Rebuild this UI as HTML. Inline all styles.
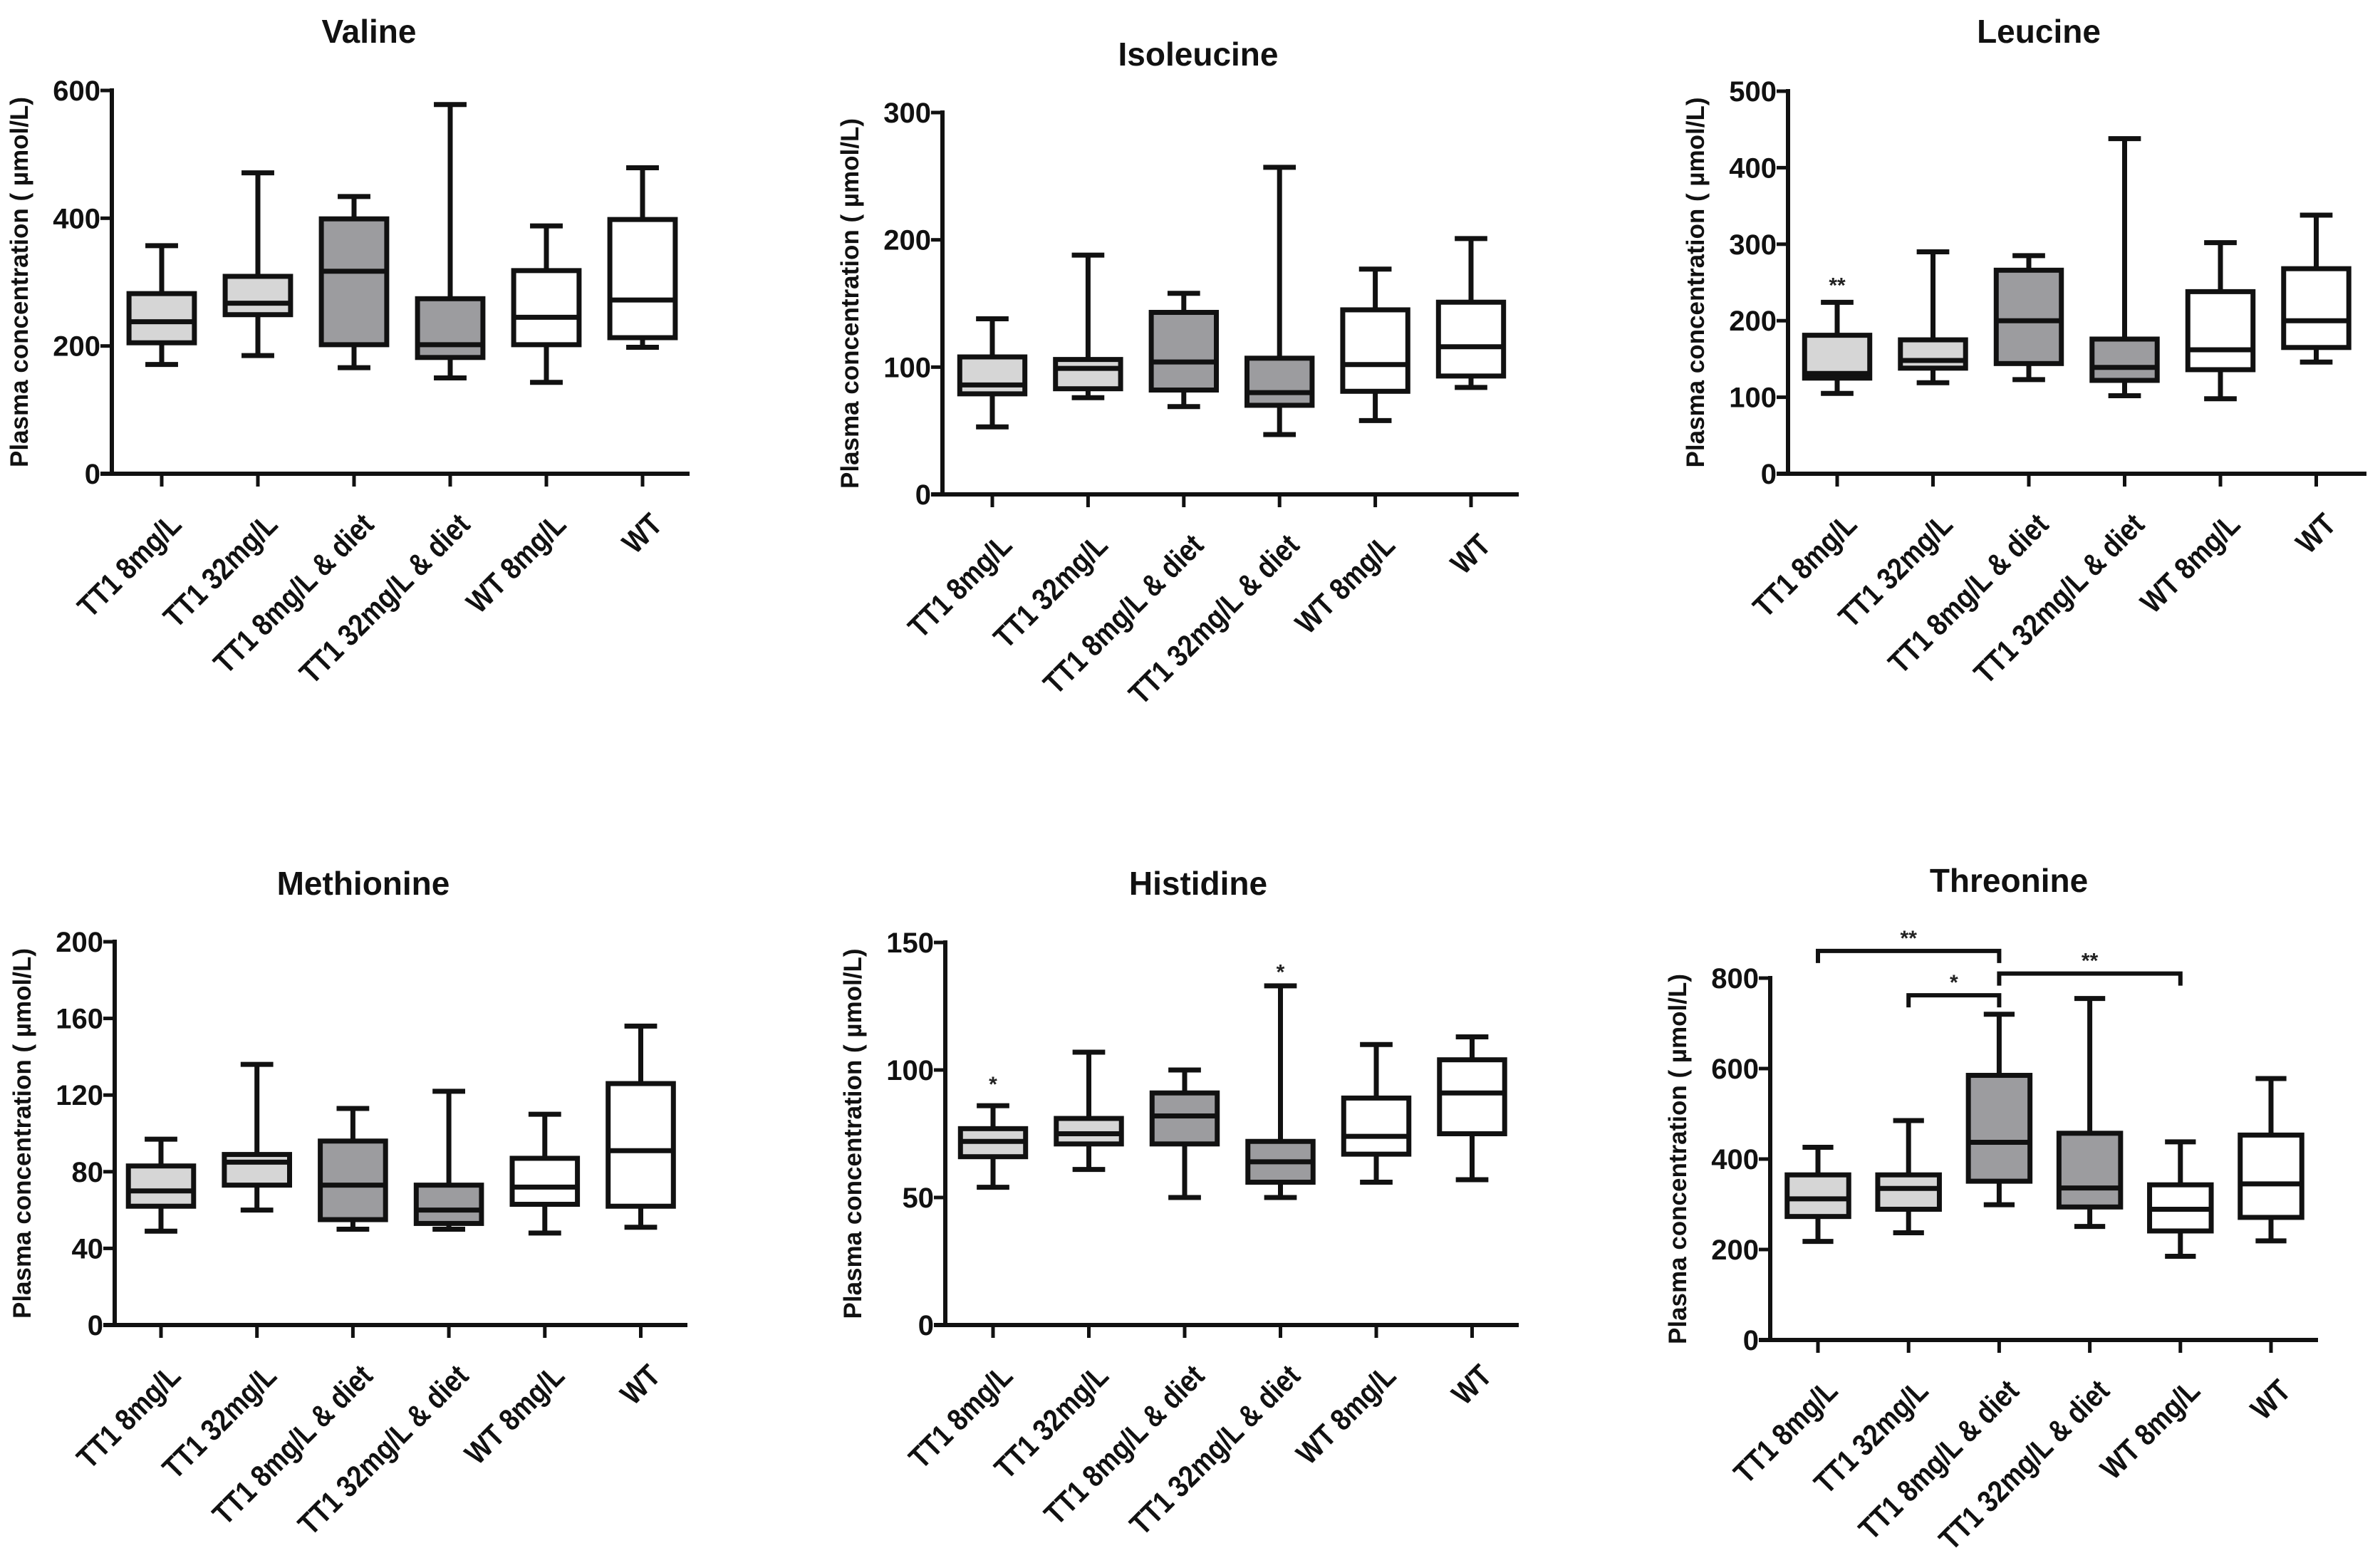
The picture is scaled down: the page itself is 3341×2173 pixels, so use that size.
<!DOCTYPE html>
<html><head><meta charset="utf-8">
<style>
html,body{margin:0;padding:0;background:#fff;}
svg{display:block;font-family:"Liberation Sans",Arial,sans-serif;}
</style></head>
<body>
<svg id="fig" width="3341" height="2173" viewBox="0 0 3341 2173" xmlns="http://www.w3.org/2000/svg"></svg>
<script>
const categories = ["TT1 8mg/L","TT1 32mg/L","TT1 8mg/L & diet","TT1 32mg/L & diet","WT 8mg/L","WT"];
const fills = ["#d6d6d6","#d6d6d6","#9c9c9f","#9c9c9f","#ffffff","#ffffff"];

// Each stat array: [min, Q1, median, Q3, max] per category
const valineStats = [[171,205,238,282,357],[185,249,267,309,471],[166,202,317,399,434],[150,182,202,274,578],[143,202,245,318,388],[198,213,272,398,479]];
const isoleucineStats = [[53,79,86,108,138],[76,83,99,106,188],[69,82,104,143,158],[47,70,80,107,257],[58,81,102,145,177],[84,93,116,151,201]];
const leucineStats = [[105,125,131,181,224],[119,138,148,175,290],[123,144,200,266,285],[102,122,139,176,438],[98,136,162,238,302],[146,165,200,268,338]];
const methionineStats = [[49,62,70,83,97],[60,73,85,89,136],[50,55,73,96,113],[50,53,60,73,122],[48,63,72,87,110],[51,62,91,126,156]];
const histidineStats = [[54,66,72,77,86],[61,71,75,81,107],[50,71,82,91,100],[50,56,64,72,133],[56,67,74,89,110],[57,75,91,104,113]];
const threonineStats = [[218,273,312,365,426],[237,289,335,365,485],[299,351,437,585,720],[251,294,336,457,755],[185,241,289,343,438],[219,271,345,453,578]];

const valineTicks = [0,200,400,600];
const isoleucineTicks = [0,100,200,300];
const leucineTicks = [0,100,200,300,400,500];
const methionineTicks = [0,40,80,120,160,200];
const histidineTicks = [0,50,100,150];
const threonineTicks = [0,200,400,600,800];

// significance markers: [categoryIndex, label, value position]
const leucineStars = [[0,"**",248]];
const histidineStars = [[0,"*",95],[3,"*",139]];
// brackets: [fromIndex, toIndex, value, label]
const threonineBrackets = [[0,2,860,"**"],[1,2,762,"*"],[2,4,810,"**"]];

const NS = "http://www.w3.org/2000/svg";
const svg = document.getElementById("fig");
function mk(tag, attrs, parent){
  const e = document.createElementNS(NS, tag);
  for (const k in attrs) e.setAttribute(k, attrs[k]);
  (parent||svg).appendChild(e);
  return e;
}

const panels = [
  {name:"valine", title:"Valine", stats:valineStats, ticks:valineTicks, ax:157, x0:227, sp:135, xend:968, yTop:127, yBot:665, titleY:60, titleX:518, stars:[], brackets:[]},
  {name:"isoleucine", title:"Isoleucine", stats:isoleucineStats, ticks:isoleucineTicks, ax:1323, x0:1393, sp:134.4, xend:2132, yTop:158, yBot:694, titleY:92, titleX:1682, stars:[], brackets:[]},
  {name:"leucine", title:"Leucine", stats:leucineStats, ticks:leucineTicks, ax:2510, x0:2579, sp:134.5, xend:3322, yTop:128, yBot:665, titleY:60, titleX:2862, stars:leucineStars, brackets:[]},
  {name:"methionine", title:"Methionine", stats:methionineStats, ticks:methionineTicks, ax:161, x0:226, sp:134.7, xend:965, yTop:1322, yBot:1860, titleY:1256, titleX:510, stars:[], brackets:[]},
  {name:"histidine", title:"Histidine", stats:histidineStats, ticks:histidineTicks, ax:1327, x0:1394, sp:134.5, xend:2132, yTop:1323, yBot:1860, titleY:1256, titleX:1682, stars:histidineStars, brackets:[]},
  {name:"threonine", title:"Threonine", stats:threonineStats, ticks:threonineTicks, ax:2485, x0:2552, sp:127.2, xend:3254, yTop:1373, yBot:1881, titleY:1252, titleX:2820, stars:[], brackets:threonineBrackets}
];

panels.forEach(p => {
  const g = mk("g", {});
  
  
  const tmax = p.ticks[p.ticks.length-1];
  const y = v => p.yBot - (v / tmax) * (p.yBot - p.yTop);
  const x = i => p.x0 + i * p.sp;
  const bw = p.sp * 0.68, cw = bw * 0.5;

  const t = mk("text", {x:p.titleX, y:p.titleY, "text-anchor":"middle", "font-size":46, "font-weight":"bold", fill:"#111"}, g);
  t.textContent = p.title;
  
  

  const ya = mk("line", {x1:p.ax, y1:p.yTop-3, x2:p.ax, y2:p.yBot+3, stroke:"#111", "stroke-width":6}, g);
  
  
  p.ticks.forEach(tv => {
    mk("line", {x1:p.ax-16, y1:y(tv), x2:p.ax, y2:y(tv), stroke:"#111", "stroke-width":5}, g);
    const tl = mk("text", {x:p.ax-16, y:y(tv)+14, "text-anchor":"end", "font-size":40, "font-weight":"bold", fill:"#111"}, g);
    tl.textContent = tv;
    
    
  });
  const yl = mk("text", {x:0, y:0, transform:`translate(${p.ax-118},${(p.yTop+p.yBot)/2}) rotate(-90)`, "text-anchor":"middle", "font-size":35, "font-weight":"bold", fill:"#111"}, g);
  yl.textContent = "Plasma concentration ( µmol/L)";
  
  

  const xa = mk("line", {x1:p.ax-16, y1:p.yBot, x2:p.xend, y2:p.yBot, stroke:"#111", "stroke-width":6}, g);
  
  

  categories.forEach((c, i) => {
    mk("line", {x1:x(i), y1:p.yBot, x2:x(i), y2:p.yBot+18, stroke:"#111", "stroke-width":5}, g);
    const cl = mk("text", {x:0, y:0, transform:`translate(${x(i)+30},${p.yBot+74}) rotate(-45) scale(0.92,1.08)`, "text-anchor":"end", "font-size":40, "font-weight":"bold", fill:"#111"}, g);
    cl.textContent = c;
    
    

    const s = p.stats[i];
    const bg = mk("g", {}, g);
    
    
    mk("line", {x1:x(i), y1:y(s[0]), x2:x(i), y2:y(s[4]), stroke:"#111", "stroke-width":7}, bg);
    mk("line", {x1:x(i)-cw/2, y1:y(s[0]), x2:x(i)+cw/2, y2:y(s[0]), stroke:"#111", "stroke-width":7}, bg);
    mk("line", {x1:x(i)-cw/2, y1:y(s[4]), x2:x(i)+cw/2, y2:y(s[4]), stroke:"#111", "stroke-width":7}, bg);
    mk("rect", {x:x(i)-bw/2, y:y(s[3]), width:bw, height:Math.max(1,y(s[1])-y(s[3])), fill:fills[i], stroke:"#111", "stroke-width":7}, bg);
    mk("line", {x1:x(i)-bw/2, y1:y(s[2]), x2:x(i)+bw/2, y2:y(s[2]), stroke:"#111", "stroke-width":7}, bg);
  });

  p.stars.forEach(st => {
    const sl = mk("text", {x:x(st[0]), y:y(st[2])+12, "text-anchor":"middle", "font-size":30, "font-weight":"bold", fill:"#222"}, g);
    sl.textContent = st[1];
    
    
  });

  p.brackets.forEach(b => {
    const by = y(b[2]);
    const bk = mk("path", {d:`M${x(b[0])},${by+17} V${by} H${x(b[1])} V${by+17}`, fill:"none", stroke:"#111", "stroke-width":6}, g);
    
    
    const bl = mk("text", {x:(x(b[0])+x(b[1]))/2, y:by-8, "text-anchor":"middle", "font-size":30, "font-weight":"bold", fill:"#222"}, g);
    bl.textContent = b[3];
    
    
  });
});
</script>
</body></html>
